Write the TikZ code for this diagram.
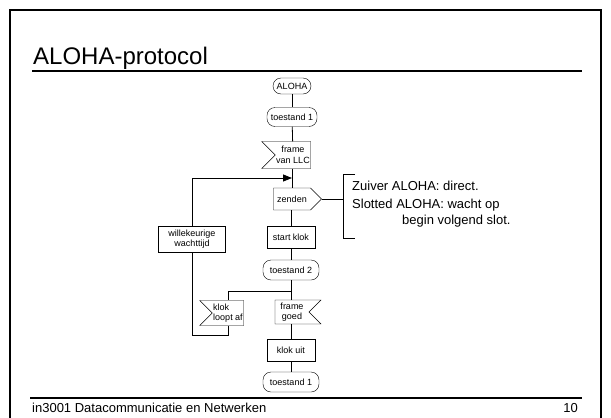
\documentclass[tikz,border=0pt]{standalone}
\usepackage{fontspec}
\setmainfont{Liberation Sans}
\usetikzlibrary{shapes.symbols,arrows.meta}
\begin{document}
\begin{tikzpicture}[x=1pt,y=-1pt]
	\tikzset{state/.style = {rectangle, rounded corners=8pt, draw, font=\fontsize{9}{10}\selectfont, inner sep=1pt}}
	\tikzset{task/.style = {rectangle, draw, font=\fontsize{9}{10.5}\selectfont, inner sep=1pt, align=center}}
	\tikzset{input/.style = {signal, draw, font=\fontsize{9}{10.5}\selectfont, inner sep=1pt, align=center, signal to=nowhere}}
	\tikzset{output/.style = {signal, draw, font=\fontsize{9}{10}\selectfont, inner sep=1pt, signal to=east}}
	\tikzset{edge/.style = {line width=0.8pt}}
	\tikzset{note/.style = {font=\fontsize{13}{15}\selectfont, inner sep=0pt}}
	\useasboundingbox (0,0) rectangle (611,418);
	% Slide frame
	\draw[line width=1.5pt] (10,418) -- (10,10) -- (601,10) -- (601,418);
	\node[font=\fontsize{24}{28}\selectfont, anchor=base west, inner sep=0pt] (title) at (33,64) {ALOHA-protocol};
	\draw[line width=1.5pt] (32,71) -- (582,71);
	\draw[line width=1.2pt] (30,398) -- (582,398);
	\node[note, anchor=base west] (footer) at (32,412) {in3001 Datacommunicatie en Netwerken};
	\node[note, anchor=base east] (page) at (578,412) {10};
	% Main flow
	\node[state, minimum width=38, minimum height=16] (aloha) at (292,86) {ALOHA};
	\node[state, minimum width=50, minimum height=19] (st1) at (292,117) {toestand 1};
	\node[input, signal from=west, minimum width=46, minimum height=27] (llc) at (293,155) {frame\\van LLC};
	\node[output, minimum width=48, minimum height=22] (zend) at (292,199) {zenden};
	\node[task, minimum width=48, minimum height=22] (start) at (291,237) {start klok};
	\node[state, minimum width=56, minimum height=20] (st2) at (291,270) {toestand 2};
	\node[input, signal from=east, minimum width=46, minimum height=24] (goed) at (292,312) {frame\\goed};
	\node[task, minimum width=48, minimum height=22] (uit) at (291,350) {klok uit};
	\node[state, minimum width=56, minimum height=20] (st1b) at (291,382) {toestand 1};
	% Retry loop
	\node[task, minimum width=67, minimum height=26] (wacht) at (192,239) {willekeurige\\wachttijd};
	\node[input, signal from=west, align=left, minimum width=44, minimum height=25] (loopt) at (228,313) {klok\\loopt af};
	\coordinate (in) at (292,178);
	\coordinate (split) at (292,291);
	\coordinate (back) at (228,335);
	\draw[edge] (aloha) -- (st1);
	\draw[edge] (st1) -- (llc);
	\draw[edge] (st1.south |- llc.south) -- (st1.south |- zend.north);
	\draw[edge] (start.north |- zend.south) -- (start);
	\draw[edge] (start) -- (st2);
	\draw[edge] (st2.south) -- (st2.south |- goed.north);
	\draw[edge] (uit.north |- goed.south) -- (uit);
	\draw[edge] (uit) -- (st1b);
	\draw[edge] (split) -| (loopt.north);
	\draw[edge] (loopt.south) -- (back) -| (wacht.south);
	\draw[edge, -{Triangle[length=9pt, width=7pt]}] (wacht.north) |- (in);
	% Remark on zenden
	\coordinate (brtop) at (355,174);
	\coordinate (brmid) at (343,199);
	\coordinate (brbot) at (355,238);
	\draw[edge] (zend.east) -- (brmid);
	\draw[edge] (brtop) -- (brtop -| brmid) -- (brbot -| brmid) -- (brbot);
	\node[note, anchor=base west] (zuiver) at (352,190) {Zuiver ALOHA: direct.};
	\node[note, anchor=base west] (slotted) at (352,208) {Slotted ALOHA: wacht op};
	\node[note, anchor=base west] (slot) at (402,224) {begin volgend slot.};
\end{tikzpicture}
\end{document}
